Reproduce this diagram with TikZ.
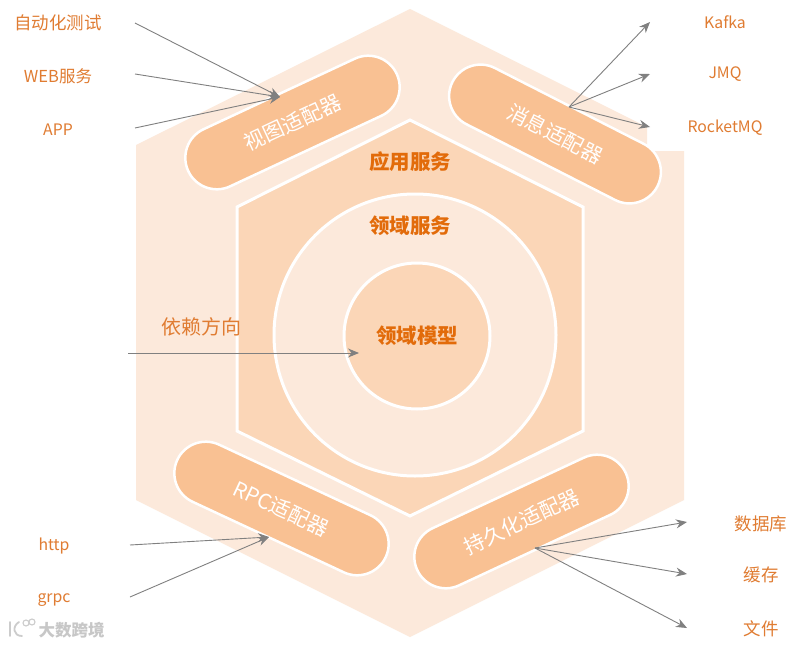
\documentclass[tikz,border=0pt]{standalone}
\usepackage{fontspec}
\setmainfont{Noto Sans CJK SC}
\usetikzlibrary{arrows.meta}
\definecolor{hexa}{HTML}{FCE9DB}
\definecolor{hexb}{HTML}{FBD6B7}
\definecolor{pillc}{HTML}{F9C193}
\definecolor{lab}{HTML}{E07C32}
\definecolor{head}{HTML}{E26B0A}
\definecolor{arr}{HTML}{808080}
\tikzset{
  pill/.style={draw=white,line width=2.5pt,fill=pillc,minimum width=230pt,minimum height=63pt,rounded corners=31.5pt,inner sep=0pt,text=white,font=\fontsize{20.8}{21}\selectfont},
  lab/.style={text=lab,font=\fontsize{17.5}{18}\selectfont,inner sep=0pt},
  latin/.style={text=lab,font=\fontsize{15.8}{17}\selectfont,inner sep=0pt},
  head/.style={text=head,font=\bfseries\fontsize{20.5}{21}\selectfont,inner sep=0pt},
  link/.style={draw=arr,line width=.9pt,-{Stealth[length=11pt,width=9pt]}},
  ring/.style={draw=white,line width=3pt},
}
\begin{document}
\begin{tikzpicture}[x=1pt,y=-1pt]
\useasboundingbox (0,0) rectangle (796,645);
\fill[white] (0,0) rectangle (796,645);
\fill[hexa] (410,9) -- (647,127) -- (647,151) -- (684,151) -- (684,500) -- (410,637) -- (136,500) -- (136,145) -- cycle;
\draw[ring,fill=hexb] (410,120) -- (583,207) -- (583,431) -- (410,516) -- (237,431) -- (237,207) -- cycle;
\node[ring,fill=hexa,circle,minimum size=282pt,inner sep=0pt] (svc) at (415,335) {};
\node[ring,fill=hexb,circle,minimum size=146pt,inner sep=0pt] (core) at (417,336) {};
\node[head] (coret) at (417,336) {领域模型};
\node[head] (svct) at (410,226) {领域服务};
\node[head] (appt) at (410,162) {应用服务};
\node[pill,rotate=25] (view) at (292.5,122.5) {视图适配器};
\node[pill,rotate=-27] (msg) at (555,134) {消息适配器};
\node[pill,rotate=-25] (rpc) at (281.5,508.5) {RPC适配器};
\node[pill,rotate=25] (store) at (521.5,521.5) {持久化适配器};
\node[lab] (auto) at (58,23) {自动化测试};
\node[lab,font=\fontsize{16.5}{17}\selectfont] (web) at (58,76) {WEB服务};
\node[latin] (app) at (58,130) {APP};
\node[latin] (kafka) at (725,22) {Kafka};
\node[latin] (jmq) at (725,74) {JMQ};
\node[latin] (rocket) at (725,128) {RocketMQ};
\node[latin] (http) at (54,546) {http};
\node[latin] (grpc) at (54,600) {grpc};
\node[lab] (db) at (761,524) {数据库};
\node[lab] (cache) at (761,575) {缓存};
\node[lab] (file) at (761,629) {文件};
\node[text=lab,font=\fontsize{20}{21}\selectfont,inner sep=0pt] (dir) at (201,327) {依赖方向};
\coordinate (a1) at (135,23);
\coordinate (a2) at (135,74);
\coordinate (a3) at (135,128);
\coordinate (vt) at (280,97);
\draw[link] (a1) -- (vt);
\draw[link] (a2) -- (vt);
\draw[link] (a3) -- (vt);
\coordinate (mo) at (569,107);
\coordinate (k1) at (650,22);
\coordinate (k2) at (650,74);
\coordinate (k3) at (650,127);
\draw[link] (mo) -- (k1);
\draw[link] (mo) -- (k2);
\draw[link] (mo) -- (k3);
\coordinate (d1) at (128,353);
\coordinate (d2) at (359,353);
\draw[link] (d1) -- (d2);
\coordinate (r1) at (130,545);
\coordinate (r2) at (130,597);
\coordinate (rt) at (269,537);
\draw[link] (r1) -- (rt);
\draw[link] (r2) -- (rt);
\coordinate (so) at (535,548);
\coordinate (s1) at (687,522);
\coordinate (s2) at (687,574);
\coordinate (s3) at (687,628);
\draw[link] (so) -- (s1);
\draw[link] (so) -- (s2);
\draw[link] (so) -- (s3);
\node[text=black!22,font=\bfseries\fontsize{16.5}{17}\selectfont,inner sep=0pt] (mark) at (71.5,630) {大数跨境};
\draw[black!20,line width=1.8pt,line cap=round] (10,622) -- (10,636);
\draw[black!20,line width=1.8pt,line cap=round] (19,622) .. controls (12,626) and (13,636) .. (22,636);
\draw[black!20,line width=1.1pt] (26,623) circle (3) (32,622) circle (3);
\end{tikzpicture}
\end{document}
